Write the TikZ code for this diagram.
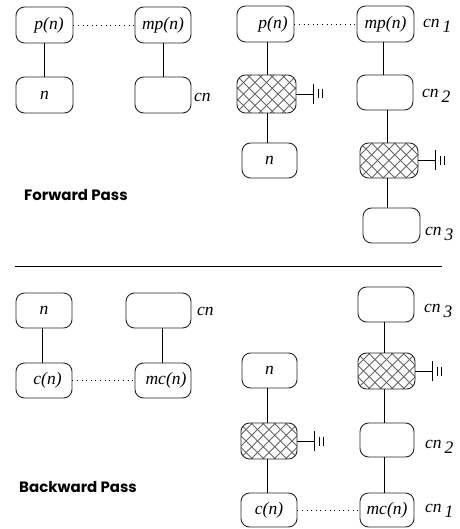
\documentclass[tikz,border=0pt]{standalone}
\usepackage{fontspec}
\setmainfont{Liberation Serif}
\newfontfamily\passfont{Poppins}
\begin{document}
\begin{tikzpicture}[x=1pt,y=-1pt,
  box/.style={draw=black!85, rounded corners=8.5pt, line width=0.9pt,
    minimum width=57pt, minimum height=36pt, inner sep=0pt,
    font=\fontsize{17.5}{19}\selectfont\itshape},
  hatchbox/.style={box, path picture={
    \foreach \k in {-9,...,9}{
      \draw[black!60, line width=0.9pt]
        ([xshift=\k*11.5pt]path picture bounding box.center) ++(-30pt,-30pt) -- ++(60pt,60pt);
      \draw[black!60, line width=0.9pt]
        ([xshift=\k*11.5pt]path picture bounding box.center) ++(-30pt,30pt) -- ++(60pt,-60pt);
    }}},
  link/.style={line width=0.8pt},
  pair/.style={line width=0.9pt, dash pattern=on 1pt off 3.6pt},
  tag/.style={anchor=base west, inner sep=0pt, font=\fontsize{17.5}{19}\selectfont\itshape},
  pass/.style={anchor=west, inner sep=0pt, font=\passfont\bfseries\fontsize{15}{17}\selectfont},
  ground/.pic={
    \draw[link] (0,0) -- (17,0);
    \draw[link] (17,-10) -- (17,10);
    \draw[line width=0.7pt] (22,-4.5) -- (22,4.5) (26,-4.5) -- (26,4.5);
  }]
\useasboundingbox (0,0) rectangle (459,529);

% ---------- forward pass, single step ----------
\node[box] (fp) at (44.5,25) {\hspace*{9pt}p(n)};
\node[box] (fn) at (44.5,95) {n};
\node[box, minimum width=56pt] (fmp) at (163,25) {mp(n)};
\node[box, minimum width=56pt] (fcn) at (163,95) {};
\node[tag] at (194,102) {cn};
\draw[link] (fp) -- (fn);
\draw[link] (fmp) -- (fcn);
\draw[pair] (fp) -- (fmp);

% ---------- forward pass, two steps ----------
\node[box] (gp) at (265.5,24) {\hspace*{15pt}p(n)};
\node[hatchbox, minimum width=59pt, minimum height=38pt] (gh) at (266.5,94) {};
\node[box, minimum width=55pt, minimum height=35pt] (gn) at (269.5,160.5) {n};
\node[box] (gmp) at (385.5,24) {mp(n)};
\node[box, minimum width=56pt, minimum height=35pt] (gc2) at (385,92.5) {};
\node[hatchbox, minimum width=58pt, minimum height=35pt] (gh2) at (389,160.5) {};
\node[box, minimum height=35pt] (gc3) at (391.5,225.5) {};
\draw[link] (gh.north) ++(0.5,0) coordinate (ght) -- (ght |- gp.south);
\draw[link] (gn.north) ++(-2.5,0) coordinate (gnt) -- (gnt |- gh.south);
\draw[link] (gc2.north) ++(-2,0) coordinate (gc2t) -- (gc2t |- gmp.south);
\draw[link] (gh2.north) ++(-2,0) coordinate (gh2t) -- (gh2t |- gc2.south);
\draw[link] (gc3.north) ++(-4.5,0) coordinate (gc3t) -- (gc3t |- gh2.south);
\draw[pair] (gp) -- (gmp);
\pic at (gh.east) {ground};
\pic at (gh2.east) {ground};
\node[tag] at (423,28) {cn\,\raisebox{-5pt}{1}};
\node[tag] at (422,98) {cn\,\raisebox{-5pt}{2}};
\node[tag] at (425,235) {cn\,\raisebox{-5pt}{3}};

\node[pass] (fwd) at (24,195) {Forward Pass};

% ---------- separator ----------
\coordinate (sepl) at (15,266);
\coordinate (sepr) at (442,266);
\draw[line width=0.9pt] (sepl) -- (sepr);

% ---------- backward pass, single step ----------
\node[box, minimum width=56pt, minimum height=35pt] (bn) at (44,310.5) {n};
\node[box, minimum width=56pt, minimum height=35pt] (bc) at (44,380.5) {\hspace*{7pt}c(n)};
\node[box, minimum width=65pt, minimum height=35pt] (bcn) at (158.5,310.5) {};
\node[box, minimum width=56pt, minimum height=35pt] (bmc) at (163,380.5) {\hspace*{6pt}mc(n)};
\node[tag] at (197,315) {cn};
\draw[link] (bc.north) ++(-2,0) coordinate (bct) -- (bct |- bn.south);
\draw[link] (bmc.north) ++(-1,0) coordinate (bmct) -- (bmct |- bcn.south);
\draw[pair] (bc) -- (bmc);

% ---------- backward pass, two steps ----------
\node[box, minimum width=55pt, minimum height=35pt] (cn) at (269.5,370.5) {n};
\node[hatchbox, minimum width=56pt, minimum height=36pt] (ch) at (269,441) {};
\node[box, minimum width=56pt, minimum height=34pt] (cc) at (269,510) {c(n)};
\node[box, minimum width=56pt, minimum height=35pt] (cc3) at (386,304.5) {};
\node[hatchbox, minimum width=57pt, minimum height=36pt] (chh) at (386.5,371) {};
\node[box, minimum width=54pt, minimum height=34pt] (cc2) at (387,440) {};
\node[box, minimum width=54pt, minimum height=34pt] (cmc) at (387,510) {mc(n)};
\draw[link] (ch.north) ++(-2,0) coordinate (cht) -- (cht |- cn.south);
\draw[link] (cc.north) ++(-2,0) coordinate (cct) -- (cct |- ch.south);
\draw[link] (chh.north) ++(-2.5,0) coordinate (chht) -- (chht |- cc3.south);
\draw[link] (cc2.north) ++(-3,0) coordinate (cc2t) -- (cc2t |- chh.south);
\draw[link] (cmc.north) ++(-3,0) coordinate (cmct) -- (cmct |- cc2.south);
\draw[pair] (cc) -- (cmc);
\pic at (ch.east) {ground};
\pic at (chh.east) {ground};
\node[tag] at (424,312) {cn\,\raisebox{-5pt}{3}};
\node[tag] at (425,448) {cn\,\raisebox{-5pt}{2}};
\node[tag] at (425,512) {cn\,\raisebox{-5pt}{1}};

\node[pass] (bwd) at (19,487) {Backward Pass};
\end{tikzpicture}
\end{document}
